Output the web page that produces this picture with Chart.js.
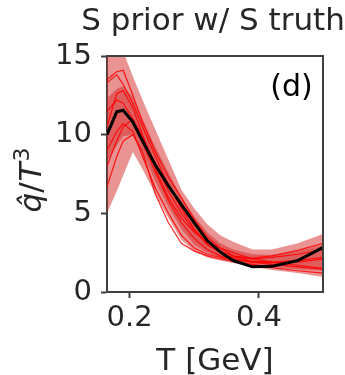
<!DOCTYPE html>
<html>
<head>
<meta charset="utf-8">
<script src="https://cdn.jsdelivr.net/npm/chart.js@4/dist/chart.umd.min.js"></script>
<style>
  html, body { margin: 0; padding: 0; background: #fff; }
  #wrap { width: 345px; height: 375px; position: relative; }
</style>
</head>
<body>
<div id="wrap"><canvas id="c" width="345" height="375"></canvas></div>
<script>
// ---- data ----
const titleText = 'S prior w/ S truth';
const panelLabel = '(d)';
const xAxisLabel = 'T [GeV]';
const yAxisLabelParts = ['q\u0302', '/', 'T', '3'];   // q-hat / T^3
const xTickValues = [0.2, 0.4];
const xTickLabels = ['0.2', '0.4'];
const yTickValues = [0, 5, 10, 15];

const temps      = [0.165, 0.18, 0.19, 0.205, 0.22, 0.24, 0.26, 0.28, 0.30, 0.32, 0.34, 0.36, 0.39, 0.42, 0.46, 0.50];
const outerLow   = [5.0, 6.4, 7.4, 8.9, 7.8, 6.2, 4.7, 3.3, 2.6, 2.2, 2.0, 1.85, 1.6, 1.4, 1.2, 0.95];
const outerHigh  = [17.5, 16.3, 15.3, 13.7, 12.2, 10.3, 8.4, 6.5, 5.3, 4.3, 3.6, 3.2, 2.7, 2.7, 3.1, 3.7];
const innerLow   = [8.3, 9.3, 9.9, 10.0, 8.8, 7.0, 5.4, 4.0, 3.0, 2.5, 2.2, 2.0, 1.75, 1.6, 1.45, 1.35];
const innerHigh  = [12.3, 12.9, 13.1, 12.4, 11.0, 9.2, 7.6, 6.0, 4.8, 3.8, 3.1, 2.7, 2.4, 2.35, 2.6, 3.0];
const sample1    = [13.5, 14.0, 14.1, 12.5, 10.8, 8.9, 7.3, 6.0, 4.6, 3.5, 2.8, 2.3, 1.9, 1.75, 1.6, 1.45];
const sample2    = [13.3, 13.8, 13.2, 12.0, 10.5, 8.6, 6.8, 5.3, 4.0, 3.1, 2.6, 2.3, 2.15, 2.3, 2.65, 3.1];
const sample3    = [10.5, 12.6, 12.8, 11.7, 10.0, 7.8, 6.0, 4.7, 3.8, 3.2, 2.8, 2.5, 2.1, 1.9, 1.7, 1.5];
const sample4    = [8.0, 9.6, 10.5, 11.0, 9.9, 8.1, 6.4, 5.0, 3.9, 3.0, 2.5, 2.2, 2.1, 2.2, 2.4, 2.7];
const sample5    = [9.0, 10.2, 10.7, 10.2, 8.6, 6.6, 5.0, 3.6, 2.8, 2.4, 2.2, 2.05, 1.9, 1.85, 1.9, 2.1];
const sample6    = [6.7, 8.6, 9.6, 10.0, 8.9, 6.2, 4.4, 3.1, 2.6, 2.3, 2.1, 1.95, 1.75, 1.55, 1.35, 1.2];
const sample7    = [11.5, 12.2, 12.0, 11.0, 9.5, 7.6, 5.8, 4.4, 3.4, 2.7, 2.3, 2.1, 1.95, 1.9, 2.0, 2.2];
const truth      = [10.0, 11.45, 11.55, 10.8, 9.6, 8.05, 6.75, 5.55, 4.4, 3.27, 2.55, 2.0, 1.6, 1.63, 2.0, 2.85];

const samples = [sample1, sample2, sample3, sample4, sample5, sample6, sample7];

function pts(vals) { return temps.map((t, i) => ({ x: t, y: vals[i] })); }

const FONT = '"DejaVu Sans"';
const bandColor = 'rgba(214,39,40,0.5)';
const spineColor = '#404040';
const textColor = '#262626';

const datasets = [
  { data: pts(outerLow), borderWidth: 0, pointRadius: 0, fill: false, order: 10, borderColor: 'rgba(0,0,0,0)' },
  { data: pts(outerHigh), borderWidth: 0, pointRadius: 0, fill: 0, backgroundColor: bandColor, order: 10, borderColor: 'rgba(0,0,0,0)' },
  { data: pts(innerLow), borderWidth: 0, pointRadius: 0, fill: false, order: 9, borderColor: 'rgba(0,0,0,0)' },
  { data: pts(innerHigh), borderWidth: 0, pointRadius: 0, fill: 2, backgroundColor: bandColor, order: 9, borderColor: 'rgba(0,0,0,0)' }
];
samples.forEach(s => datasets.push({ data: pts(s), borderColor: 'rgba(255,0,0,0.85)', borderWidth: 1.2, pointRadius: 0, fill: false, order: 5 }));
datasets.push({ data: pts(truth), borderColor: '#000', borderWidth: 3, pointRadius: 0, fill: false, order: 0 });

const decor = {
  id: 'decor',
  afterDraw(chart) {
    const { ctx, chartArea: a } = chart;
    ctx.save();
    // top and right spines
    ctx.strokeStyle = spineColor;
    ctx.lineWidth = 2;
    ctx.beginPath();
    ctx.moveTo(a.left, a.top); ctx.lineTo(a.right, a.top); ctx.lineTo(a.right, a.bottom);
    ctx.stroke();
    // title
    ctx.fillStyle = textColor;
    ctx.textBaseline = 'alphabetic';
    ctx.textAlign = 'center';
    ctx.font = '31px ' + FONT;
    ctx.fillText(titleText, 213, 29.5);
    // x axis label
    ctx.fillText(xAxisLabel, (a.left + a.right) / 2, 369.5);
    // panel label
    ctx.fillStyle = '#000';
    ctx.font = '30px ' + FONT;
    ctx.fillText(panelLabel, 291.5, 95.5);
    // y axis label (rotated)
    ctx.fillStyle = textColor;
    ctx.translate(41, 180);
    ctx.rotate(-Math.PI / 2);
    ctx.textAlign = 'left';
    const fonts = ['italic 31px ' + FONT, '31px ' + FONT, 'italic 31px ' + FONT, '22px ' + FONT];
    const dys = [0, 0, 0, -12];
    const gaps = [0, 0, 1, 1];
    let widths = yAxisLabelParts.map((t, i) => { ctx.font = fonts[i]; return ctx.measureText(t).width; });
    const total = widths.reduce((s, w) => s + w, 0) + gaps.reduce((s, g) => s + g, 0);
    let u = -total / 2;
    yAxisLabelParts.forEach((t, i) => {
      u += gaps[i];
      ctx.font = fonts[i];
      ctx.fillText(t, u, dys[i]);
      u += widths[i];
    });
    ctx.restore();
  }
};

new Chart(document.getElementById('c'), {
  type: 'line',
  data: { datasets },
  options: {
    responsive: false,
    animation: false,
    layout: { padding: { top: 56, right: 22, left: 0, bottom: 0 } },
    plugins: { legend: { display: false }, tooltip: { enabled: false }, title: { display: false } },
    scales: {
      x: {
        type: 'linear', min: 0.165, max: 0.499,
        afterFit(s) { s.height = 83; },
        afterBuildTicks(s) { s.ticks = xTickValues.map(v => ({ value: v })); },
        ticks: { color: textColor, font: { family: 'DejaVu Sans', size: 29 }, padding: 3, maxRotation: 0,
                 callback: (v) => xTickLabels[xTickValues.indexOf(v)] },
        grid: { drawOnChartArea: false, drawTicks: true, tickLength: 6, tickWidth: 2, tickColor: spineColor },
        border: { display: true, color: spineColor, width: 2 }
      },
      y: {
        min: 0, max: 15,
        afterFit(s) { s.width = 107; },
        afterBuildTicks(s) { s.ticks = yTickValues.map(v => ({ value: v })); },
        ticks: { color: textColor, font: { family: 'DejaVu Sans', size: 29 }, padding: 9 },
        grid: { drawOnChartArea: false, drawTicks: true, tickLength: 6, tickWidth: 2, tickColor: spineColor },
        border: { display: true, color: spineColor, width: 2 }
      }
    }
  },
  plugins: [decor]
});
</script>
</body>
</html>
